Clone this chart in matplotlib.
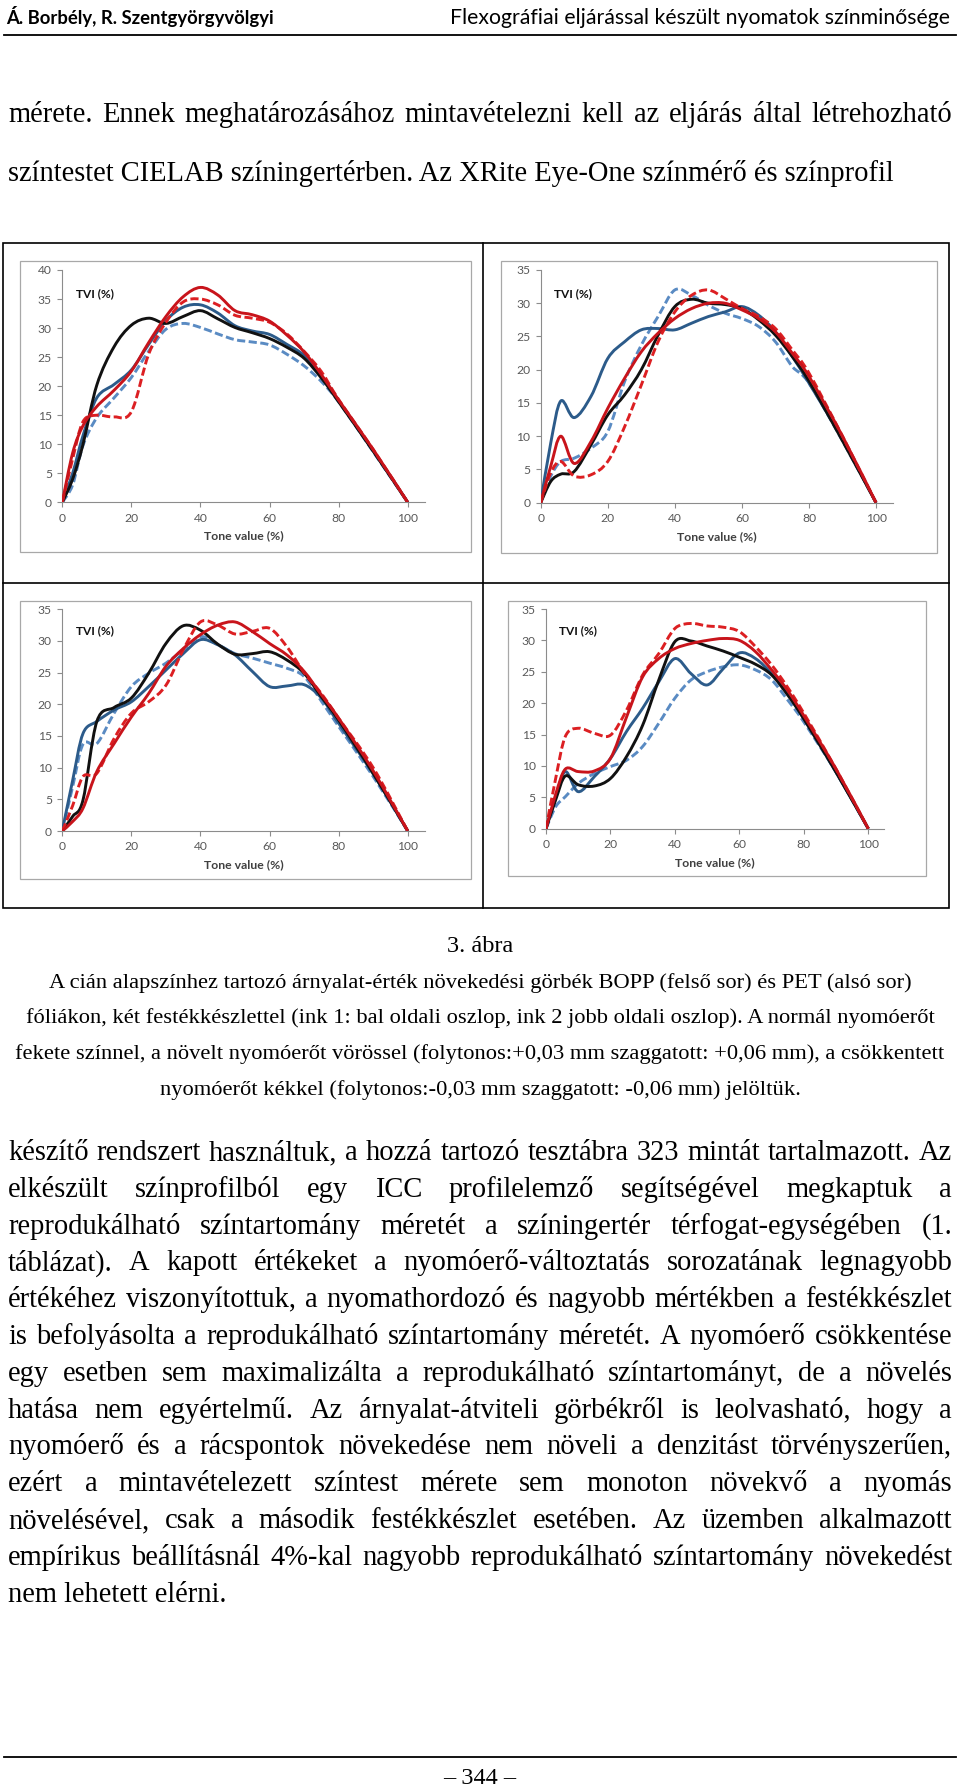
import matplotlib
matplotlib.use("Agg")
import matplotlib.pyplot as plt
import numpy as np
from matplotlib.path import Path
from matplotlib.patches import PathPatch, Rectangle

W, H = 960, 1788

tone = [0, 3, 6, 10, 15, 20, 25, 30, 35, 40, 45, 50, 55, 60, 65, 70, 75, 80, 90, 100]

# BOPP, ink 1 (top left)
bopp1_normal = [0, 4, 10, 20.2, 26.8, 30.5, 31.7, 30.8, 32, 33, 31.6, 30.1, 29.2, 28.2, 26.7, 24.8, 21.4, 17.3, 8.8, 0]
bopp1_plus03 = [0, 8.5, 13.2, 16.5, 19.3, 22.6, 27.5, 32, 35.4, 37, 35.7, 33, 32.3, 31.2, 28.8, 25.9, 22, 17.6, 9.1, 0]
bopp1_plus06 = [0, 7.5, 13.9, 15, 14.7, 15.6, 25.5, 31, 34.5, 35, 34, 32.2, 31.7, 31, 29, 26, 22.5, 17.7, 9.1, 0]
bopp1_minus03 = [0, 5, 11.5, 18, 20.3, 22.8, 27.2, 31.3, 33.6, 34, 32.6, 30.4, 29.5, 28.9, 27.2, 25.3, 21.8, 17.5, 8.9, 0]
bopp1_minus06 = [0, 3, 9.8, 14.6, 18, 21.5, 26, 29.8, 30.8, 30.1, 29, 28, 27.6, 27.1, 25.5, 23.5, 20.8, 17.3, 8.7, 0]

# BOPP, ink 2 (top right)
bopp2_normal = [0, 3.2, 4.3, 4.7, 8.7, 13.2, 16.2, 20, 25.2, 29.5, 30.6, 30, 29.8, 29.2, 27.5, 25.2, 22, 18.3, 9.3, 0]
bopp2_plus03 = [0, 5.5, 10, 5.9, 9.2, 14.2, 18.7, 22.7, 25.5, 27.7, 29.2, 30, 30, 29, 27.7, 25.7, 22.5, 19, 10, 0]
bopp2_plus06 = [0, 4.5, 6.2, 4, 4.2, 6.2, 11.4, 17.7, 24.2, 28.7, 31.2, 32, 30.7, 29.2, 28, 26.2, 23, 19.5, 10, 0]
bopp2_minus03 = [0, 9, 15.3, 12.8, 16, 21.7, 24.2, 26, 26.2, 26, 27, 28, 28.7, 29.5, 28.2, 25.7, 22, 18, 9.5, 0]
bopp2_minus06 = [0, 4, 6.2, 6.7, 8.2, 10.7, 18.2, 23.7, 28, 32, 31.2, 29.7, 28.5, 27.7, 26.5, 24.2, 20.5, 18, 9.3, 0]

# PET, ink 1 (bottom left)
pet1_normal = [0, 2.3, 4.9, 17.3, 19.5, 21, 24.9, 29.6, 32.4, 31.7, 29.5, 27.9, 28, 28.3, 27, 24.9, 21.2, 17.5, 9.1, 0]
pet1_plus03 = [0, 1.5, 3.6, 9.4, 13.8, 18, 21.7, 26, 28.8, 31, 32.5, 33, 31.5, 29.6, 27.8, 25.2, 21.5, 17.8, 9.5, 0]
pet1_plus06 = [0, 4, 8.6, 9.1, 14.6, 18.6, 20.4, 23, 28.6, 33, 32.5, 31.1, 31.5, 32, 29.1, 25, 21.7, 17.8, 10, 0]
pet1_minus03 = [0, 8, 15.4, 17.3, 19.1, 20.4, 22.8, 25.4, 28, 30.2, 29.4, 27.8, 25.2, 22.8, 22.9, 23.1, 21, 17, 9, 0]
pet1_minus06 = [0, 7, 13.7, 13.8, 18.6, 22.8, 24.9, 26.5, 28.6, 30.7, 29.4, 28, 27.3, 26.5, 25.7, 24.4, 20.5, 16.5, 8.6, 0]

# PET, ink 2 (bottom right)
pet2_normal = [0, 4.6, 8.4, 7, 6.8, 8, 11.5, 16.5, 23.7, 29.8, 29.9, 29.1, 28.3, 27.3, 26.2, 24.5, 21.3, 17.5, 9, 0]
pet2_plus03 = [0, 5.5, 9.5, 9.1, 9.2, 11.2, 17.8, 24.2, 27.1, 28.7, 29.5, 30, 30.3, 30, 28.2, 25.3, 22, 18, 9.5, 0]
pet2_plus06 = [0, 8, 14.7, 16, 15.2, 14.9, 18.9, 24.5, 27.9, 31.9, 32.7, 32.3, 32.1, 31.4, 29, 26.1, 22.5, 18.4, 9.5, 0]
pet2_minus03 = [0, 5, 9.1, 5.9, 8.3, 11.2, 15.5, 19.2, 23.4, 27.1, 24.7, 22.9, 25.5, 28, 27.1, 24.7, 21.5, 17.5, 9, 0]
pet2_minus06 = [0, 3.5, 5.1, 7.2, 8.8, 9.9, 10.9, 13.1, 16.8, 20.8, 23.7, 25, 25.8, 26.1, 25.3, 23.7, 20.5, 17, 9, 0]

header_left = "Á. Borbély, R. Szentgyörgyvölgyi"
header_right = "Flexográfiai eljárással készült nyomatok színminősége"
top_lines = [
    "mérete. Ennek meghatározásához mintavételezni kell az eljárás által létrehozható",
    "színtestet CIELAB színingertérben. Az XRite Eye-One színmérő és színprofil",
]
caption_title = "3. ábra"
caption_lines = [
    "A cián alapszínhez tartozó árnyalat-érték növekedési görbék BOPP (felső sor) és PET (alsó sor)",
    "fóliákon, két festékkészlettel (ink 1: bal oldali oszlop, ink 2 jobb oldali oszlop). A normál nyomóerőt",
    "fekete színnel, a növelt nyomóerőt vörössel (folytonos:+0,03 mm szaggatott: +0,06 mm), a csökkentett",
    "nyomóerőt kékkel (folytonos:-0,03 mm szaggatott: -0,06 mm) jelöltük.",
]
body_lines = [
    "készítő rendszert használtuk, a hozzá tartozó tesztábra 323 mintát tartalmazott. Az",
    "elkészült színprofilból egy ICC profilelemző segítségével megkaptuk a",
    "reprodukálható színtartomány méretét a színingertér térfogat-egységében (1.",
    "táblázat). A kapott értékeket a nyomóerő-változtatás sorozatának legnagyobb",
    "értékéhez viszonyítottuk, a nyomathordozó és nagyobb mértékben a festékkészlet",
    "is befolyásolta a reprodukálható színtartomány méretét. A nyomóerő csökkentése",
    "egy esetben sem maximalizálta a reprodukálható színtartományt, de a növelés",
    "hatása nem egyértelmű. Az árnyalat-átviteli görbékről is leolvasható, hogy a",
    "nyomóerő és a rácspontok növekedése nem növeli a denzitást törvényszerűen,",
    "ezért a mintavételezett színtest mérete sem monoton növekvő a nyomás",
    "növelésével, csak a második festékkészlet esetében. Az üzemben alkalmazott",
    "empírikus beállításnál 4%-kal nagyobb reprodukálható színtartomány növekedést",
    "nem lehetett elérni.",
]
page_no = "– 344 –"

SERIF = ["Liberation Serif", "DejaVu Serif"]
SANS = ["Lato", "DejaVu Sans"]
plt.rcParams["font.family"] = SANS

BLACK = "#111111"
RED = "#C8141B"
RED_D = "#DC1F22"
BLUE = "#2C5B8A"
BLUE_D = "#5A8BC3"

fig = plt.figure(figsize=(W / 100, H / 100), dpi=100)
page = fig.add_axes([0, 0, 1, 1])
page.set_xlim(0, W)
page.set_ylim(H, 0)
page.axis("off")
renderer = fig.canvas.get_renderer()


def width_of(t):
    return t.get_window_extent(renderer).width


def fit_width(t, target):
    t.set_fontsize(t.get_fontsize() * target / width_of(t))


def justified(line, y, x0, x1, size):
    words = line.split()
    texts = [page.text(0, y, w, fontsize=size, family=SERIF, va="baseline") for w in words]
    widths = [width_of(t) for t in texts]
    gap = (x1 - x0 - sum(widths)) / max(len(words) - 1, 1)
    x = x0
    for t, w in zip(texts, widths):
        t.set_x(x)
        x += w + gap


# header
t = page.text(6, 24, header_left, fontsize=14, fontweight="bold", va="baseline")
fit_width(t, 270)
t = page.text(950, 24, header_right, fontsize=14, ha="right", va="baseline")
fit_width(t, 499)
page.plot([4, 956], [35, 35], color="black", lw=1.3)

# body text size: widest justified line fills the column
probe = page.text(0, 0, "", fontsize=18, family=SERIF)
nat = []
for line in body_lines[:-1] + top_lines[:1]:
    probe.set_text(line)
    nat.append(width_of(probe))
probe.remove()
body_size = 18 * 935 / max(nat)

justified(top_lines[0], 122, 8, 952, body_size)
page.text(8, 181, top_lines[1], fontsize=body_size, family=SERIF, va="baseline")

# table frame around the four charts
page.add_patch(Rectangle((3, 243), 946, 665, fill=False, ec="black", lw=1.2))
page.plot([483, 483], [243, 908], color="black", lw=1.2)
page.plot([3, 949], [583, 583], color="black", lw=1.2)

frames = [(20, 261, 471, 552), (501, 261, 937, 553), (20, 601, 471, 879), (508, 601, 926, 876)]
for l, tp, r, b in frames:
    page.add_patch(Rectangle((l, tp), r - l, b - tp, fill=False, ec="#A8A8A8", lw=0.9))


def smooth(ax, xs, ys, color, dashed, z):
    pts = np.column_stack([xs, ys]).astype(float)
    n = len(pts)
    verts = [pts[0]]
    codes = [Path.MOVETO]
    for i in range(n - 1):
        p0 = pts[max(i - 1, 0)]
        p1 = pts[i]
        p2 = pts[i + 1]
        p3 = pts[min(i + 2, n - 1)]
        verts += [p1 + (p2 - p0) / 6, p2 - (p3 - p1) / 6, p2]
        codes += [Path.CURVE4] * 3
    ls = (0, (2.8, 1.2)) if dashed else "-"
    ax.add_patch(PathPatch(Path(verts, codes), fill=False, ec=color, lw=2.1,
                           ls=ls, capstyle="butt", joinstyle="round", zorder=z))


charts = [
    ((62.3, 270, 425, 502.3), 40, 36,
     [bopp1_minus06, bopp1_minus03, bopp1_normal, bopp1_plus06, bopp1_plus03]),
    ((540.7, 270, 892.8, 502.7), 35, 31.5,
     [bopp2_minus06, bopp2_minus03, bopp2_normal, bopp2_plus06, bopp2_plus03]),
    ((62.3, 609.3, 425, 831), 35, 31.6,
     [pet1_minus06, pet1_minus03, pet1_normal, pet1_plus06, pet1_plus03]),
    ((546, 609, 884.4, 828.7), 35, 31.5,
     [pet2_minus06, pet2_minus03, pet2_normal, pet2_plus06, pet2_plus03]),
]
styles = [(BLUE_D, True), (BLUE, False), (BLACK, False), (RED_D, True), (RED, False)]

for (l, tp, r, b), ymax, tvi_y, series in charts:
    ax = fig.add_axes([l / W, 1 - b / H, (r - l) / W, (b - tp) / H])
    ax.patch.set_alpha(0)
    ax.set_xlim(0, 105)
    ax.set_ylim(0, ymax)
    ax.set_xticks(range(0, 101, 20))
    ax.set_yticks(range(0, ymax + 1, 5))
    for s in ["top", "right"]:
        ax.spines[s].set_visible(False)
    for s in ["left", "bottom"]:
        ax.spines[s].set_color("#8C8C8C")
        ax.spines[s].set_linewidth(0.8)
    ax.tick_params(direction="out", length=3.5, width=0.8, color="#8C8C8C",
                   labelcolor="#595959", labelsize=8.7, pad=4)
    ax.set_xlabel("Tone value (%)", fontsize=8.8, fontweight="bold", color="#404040", labelpad=5)
    ax.text(4, tvi_y, "TVI (%)", fontsize=8.6, fontweight="bold", color="#111111", va="center")
    for k, (ys, (c, d)) in enumerate(zip(series, styles)):
        smooth(ax, tone, ys, c, d, 2 + k)

# caption
page.text(480, 952, caption_title, fontsize=body_size * 0.85, family=SERIF, ha="center", va="baseline")
cap = []
for i, line in enumerate(caption_lines):
    cap.append(page.text(480, 988 + i * 35.5, line, fontsize=14, family=SERIF, ha="center", va="baseline"))
cap_size = 14 * 930 / width_of(cap[2])
for t in cap:
    t.set_fontsize(cap_size)

# body paragraph
for i, line in enumerate(body_lines):
    y = 1160 + i * 36.8
    if i < len(body_lines) - 1:
        justified(line, y, 8, 952, body_size)
    else:
        page.text(8, y, line, fontsize=body_size, family=SERIF, va="baseline")

# footer
page.plot([4, 956], [1757, 1757], color="black", lw=1.3)
page.text(480, 1784, page_no, fontsize=body_size * 0.85, family=SERIF, ha="center", va="baseline")

fig.savefig("out.png", dpi=100)
